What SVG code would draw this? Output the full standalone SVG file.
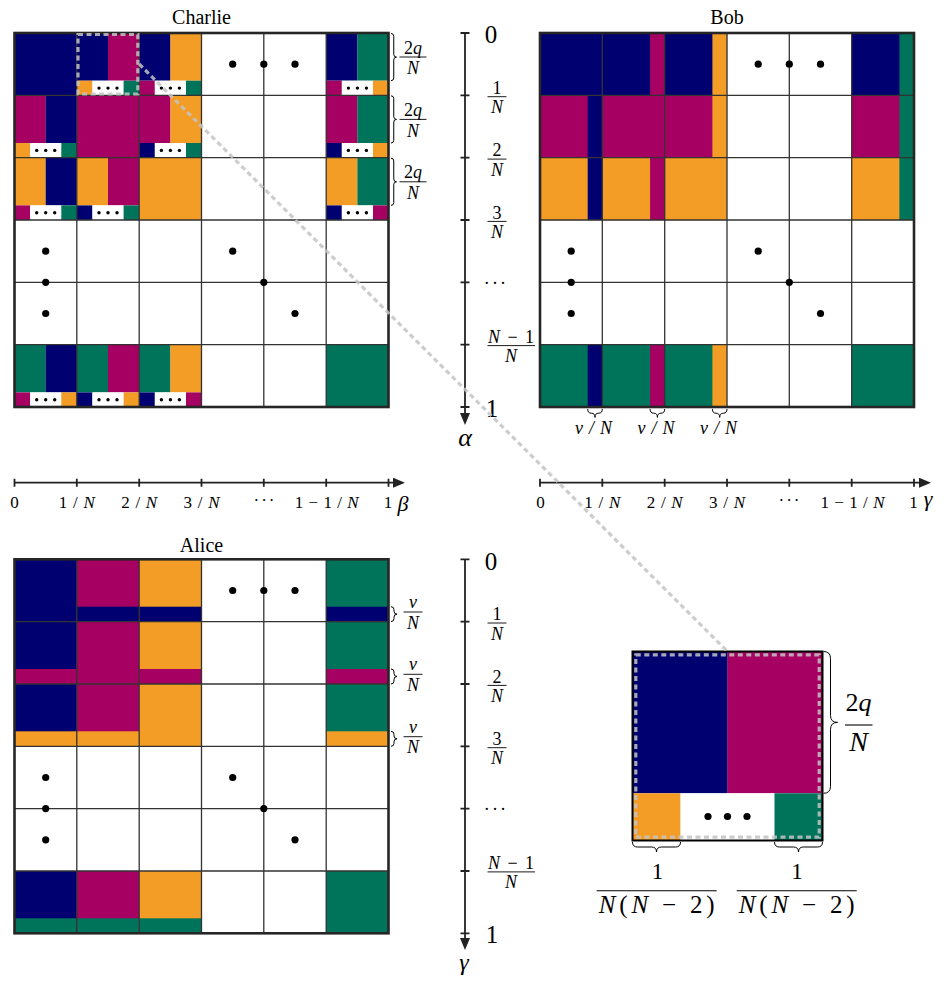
<svg xmlns="http://www.w3.org/2000/svg" width="948" height="987" viewBox="0 0 948 987" font-family="'Liberation Serif', 'DejaVu Serif', serif">
<defs>
<style>
.nv{fill:#000070}.mg{fill:#a50062}.or{fill:#f49d26}.gr{fill:#00745a}.wh{fill:#fff}
.grid{fill:none;stroke:#333;stroke-width:1.3}
.border{fill:none;stroke:#262626;stroke-width:2.6}
.t{font-family:'Liberation Serif','DejaVu Serif',serif;fill:#000}
.i{font-style:italic}
.title{font-size:20px}
.ax{fill:none;stroke:#222;stroke-width:1.8}
.tick{stroke:#222;stroke-width:1.8}
.br{fill:none;stroke:#000;stroke-width:1}
.bar{stroke:#000;stroke-width:0.9}
.f18{font-size:18px}
.f17{font-size:17px}
.big{font-size:25px}
.zoom{fill:none;stroke:#c4c4c4;stroke-opacity:0.85;stroke-width:3.2;stroke-dasharray:5 3.5}
</style>
<marker id="ah" markerUnits="userSpaceOnUse" markerWidth="12" markerHeight="10" refX="6" refY="5" orient="auto">
<path d="M0,0 L12,5 L0,10 z" fill="#222"/>
</marker>
</defs>
<rect width="948" height="987" fill="#fff"/>

<!-- ================= CHARLIE ================= -->
<g id="charlie">
<text class="t title" x="201.5" y="23.5" text-anchor="middle">Charlie</text>
<rect class="nv" x="14.5" y="33" width="62.4" height="62.4"/>
<rect class="nv" x="76.8" y="33" width="31.3" height="47.7"/><rect class="mg" x="108" y="33" width="31.3" height="47.7"/>
<rect class="or" x="76.8" y="80.7" width="15.7" height="14.7"/><rect class="wh" x="92.4" y="80.7" width="31.3" height="14.7"/><rect class="gr" x="123.6" y="80.7" width="15.7" height="14.7"/>
<rect class="nv" x="139.2" y="33" width="31.3" height="47.7"/><rect class="or" x="170.4" y="33" width="31.2" height="47.7"/>
<rect class="mg" x="139.2" y="80.7" width="15.7" height="14.7"/><rect class="wh" x="154.8" y="80.7" width="31.3" height="14.7"/><rect class="gr" x="186" y="80.7" width="15.6" height="14.7"/>
<rect class="nv" x="326.2" y="33" width="31.3" height="47.7"/><rect class="gr" x="357.4" y="33" width="31.2" height="47.7"/>
<rect class="mg" x="326.2" y="80.7" width="15.7" height="14.7"/><rect class="wh" x="341.8" y="80.7" width="31.3" height="14.7"/><rect class="or" x="373" y="80.7" width="15.6" height="14.7"/>
<rect class="mg" x="14.5" y="95.3" width="31.3" height="47.7"/><rect class="nv" x="45.7" y="95.3" width="31.2" height="47.7"/>
<rect class="or" x="14.5" y="143" width="15.7" height="14.7"/><rect class="wh" x="30.1" y="143" width="31.3" height="14.7"/><rect class="gr" x="61.3" y="143" width="15.6" height="14.7"/>
<rect class="mg" x="76.8" y="95.3" width="62.4" height="62.4"/>
<rect class="mg" x="139.2" y="95.3" width="31.3" height="47.7"/><rect class="or" x="170.4" y="95.3" width="31.2" height="47.7"/>
<rect class="nv" x="139.2" y="143" width="15.7" height="14.7"/><rect class="wh" x="154.8" y="143" width="31.3" height="14.7"/><rect class="gr" x="186" y="143" width="15.6" height="14.7"/>
<rect class="mg" x="326.2" y="95.3" width="31.3" height="47.7"/><rect class="gr" x="357.4" y="95.3" width="31.2" height="47.7"/>
<rect class="nv" x="326.2" y="143" width="15.7" height="14.7"/><rect class="wh" x="341.8" y="143" width="31.3" height="14.7"/><rect class="or" x="373" y="143" width="15.6" height="14.7"/>
<rect class="or" x="14.5" y="157.7" width="31.3" height="47.7"/><rect class="nv" x="45.7" y="157.7" width="31.2" height="47.7"/>
<rect class="mg" x="14.5" y="205.4" width="15.7" height="14.7"/><rect class="wh" x="30.1" y="205.4" width="31.3" height="14.7"/><rect class="gr" x="61.3" y="205.4" width="15.6" height="14.7"/>
<rect class="or" x="76.8" y="157.7" width="31.3" height="47.7"/><rect class="mg" x="108" y="157.7" width="31.3" height="47.7"/>
<rect class="nv" x="76.8" y="205.4" width="15.7" height="14.7"/><rect class="wh" x="92.4" y="205.4" width="31.3" height="14.7"/><rect class="gr" x="123.6" y="205.4" width="15.7" height="14.7"/>
<rect class="or" x="139.2" y="157.7" width="62.4" height="62.4"/>
<rect class="or" x="326.2" y="157.7" width="31.3" height="47.7"/><rect class="gr" x="357.4" y="157.7" width="31.2" height="47.7"/>
<rect class="nv" x="326.2" y="205.4" width="15.7" height="14.7"/><rect class="wh" x="341.8" y="205.4" width="31.3" height="14.7"/><rect class="mg" x="373" y="205.4" width="15.6" height="14.7"/>
<rect class="gr" x="14.5" y="344.7" width="31.3" height="47.7"/><rect class="nv" x="45.7" y="344.7" width="31.2" height="47.7"/>
<rect class="mg" x="14.5" y="392.4" width="15.7" height="14.7"/><rect class="wh" x="30.1" y="392.4" width="31.3" height="14.7"/><rect class="or" x="61.3" y="392.4" width="15.6" height="14.7"/>
<rect class="gr" x="76.8" y="344.7" width="31.3" height="47.7"/><rect class="mg" x="108" y="344.7" width="31.3" height="47.7"/>
<rect class="nv" x="76.8" y="392.4" width="15.7" height="14.7"/><rect class="wh" x="92.4" y="392.4" width="31.3" height="14.7"/><rect class="or" x="123.6" y="392.4" width="15.7" height="14.7"/>
<rect class="gr" x="139.2" y="344.7" width="31.3" height="47.7"/><rect class="or" x="170.4" y="344.7" width="31.2" height="47.7"/>
<rect class="nv" x="139.2" y="392.4" width="15.7" height="14.7"/><rect class="wh" x="154.8" y="392.4" width="31.3" height="14.7"/><rect class="mg" x="186" y="392.4" width="15.6" height="14.7"/>
<rect class="gr" x="326.2" y="344.7" width="62.4" height="62.4"/>
<g fill="#000">
<circle cx="99" cy="88.1" r="1.7"/><circle cx="108" cy="88.1" r="1.7"/><circle cx="117" cy="88.1" r="1.7"/>
<circle cx="161.4" cy="88.1" r="1.7"/><circle cx="170.4" cy="88.1" r="1.7"/><circle cx="179.4" cy="88.1" r="1.7"/>
<circle cx="348.4" cy="88.1" r="1.7"/><circle cx="357.4" cy="88.1" r="1.7"/><circle cx="366.4" cy="88.1" r="1.7"/>
<circle cx="36.7" cy="150.4" r="1.7"/><circle cx="45.7" cy="150.4" r="1.7"/><circle cx="54.7" cy="150.4" r="1.7"/>
<circle cx="161.4" cy="150.4" r="1.7"/><circle cx="170.4" cy="150.4" r="1.7"/><circle cx="179.4" cy="150.4" r="1.7"/>
<circle cx="348.4" cy="150.4" r="1.7"/><circle cx="357.4" cy="150.4" r="1.7"/><circle cx="366.4" cy="150.4" r="1.7"/>
<circle cx="36.7" cy="212.8" r="1.7"/><circle cx="45.7" cy="212.8" r="1.7"/><circle cx="54.7" cy="212.8" r="1.7"/>
<circle cx="99" cy="212.8" r="1.7"/><circle cx="108" cy="212.8" r="1.7"/><circle cx="117" cy="212.8" r="1.7"/>
<circle cx="348.4" cy="212.8" r="1.7"/><circle cx="357.4" cy="212.8" r="1.7"/><circle cx="366.4" cy="212.8" r="1.7"/>
<circle cx="36.7" cy="399.8" r="1.7"/><circle cx="45.7" cy="399.8" r="1.7"/><circle cx="54.7" cy="399.8" r="1.7"/>
<circle cx="99" cy="399.8" r="1.7"/><circle cx="108" cy="399.8" r="1.7"/><circle cx="117" cy="399.8" r="1.7"/>
<circle cx="161.4" cy="399.8" r="1.7"/><circle cx="170.4" cy="399.8" r="1.7"/><circle cx="179.4" cy="399.8" r="1.7"/>
</g>
<path class="grid" d="M76.8 33V407M139.2 33V407M201.5 33V407M263.8 33V407M326.2 33V407M14.5 95.3H388.5M14.5 157.7H388.5M14.5 220H388.5M14.5 282.3H388.5M14.5 344.7H388.5"/>
<rect class="border" x="14.5" y="33" width="374" height="374"/>
<g fill="#000">
<circle cx="232.7" cy="64.2" r="3.6"/><circle cx="263.8" cy="64.2" r="3.6"/><circle cx="295" cy="64.2" r="3.6"/>
<circle cx="45.7" cy="251.2" r="3.6"/><circle cx="45.7" cy="282.3" r="3.6"/><circle cx="45.7" cy="313.5" r="3.6"/>
<circle cx="232.7" cy="251.2" r="3.6"/><circle cx="263.8" cy="282.3" r="3.6"/><circle cx="295" cy="313.5" r="3.6"/>
</g>
<rect class="zoom" x="78" y="34.5" width="59.8" height="59.5"/>
</g>

<g id="charlie-braces">
<path class="br" d="M391,33.5 q2.75,0 2.75,2.75 V54.35 q0,2.75 2.75,2.75 q-2.75,0 -2.75,2.75 V77.95 q0,2.75 -2.75,2.75"/>
<path class="br" d="M391,95.8 q2.75,0 2.75,2.75 V116.65 q0,2.75 2.75,2.75 q-2.75,0 -2.75,2.75 V140.25 q0,2.75 -2.75,2.75"/>
<path class="br" d="M391,158.2 q2.75,0 2.75,2.75 V179.05 q0,2.75 2.75,2.75 q-2.75,0 -2.75,2.75 V202.65 q0,2.75 -2.75,2.75"/>
<text class="t f18" x="413" y="53.5" text-anchor="middle">2<tspan class="i">q</tspan></text>
<line class="bar" x1="399.5" y1="57" x2="426.5" y2="57"/>
<text class="t f18 i" x="413" y="74.2" text-anchor="middle">N</text>
<text class="t f18" x="413" y="116" text-anchor="middle">2<tspan class="i">q</tspan></text>
<line class="bar" x1="399.5" y1="119.4" x2="426.5" y2="119.4"/>
<text class="t f18 i" x="413" y="136.6" text-anchor="middle">N</text>
<text class="t f18" x="413" y="178.4" text-anchor="middle">2<tspan class="i">q</tspan></text>
<line class="bar" x1="399.5" y1="181.8" x2="426.5" y2="181.8"/>
<text class="t f18 i" x="413" y="199" text-anchor="middle">N</text>
</g>

<g id="bob">
<text class="t title" x="727" y="23.5" text-anchor="middle">Bob</text>
<rect class="nv" x="540" y="33" width="62.4" height="62.4"/>
<rect class="nv" x="602.3" y="33" width="62.4" height="62.4"/><rect class="mg" x="650.1" y="33" width="14.6" height="62.4"/>
<rect class="nv" x="664.7" y="33" width="62.4" height="62.4"/><rect class="or" x="712.4" y="33" width="14.6" height="62.4"/>
<rect class="nv" x="851.7" y="33" width="62.4" height="62.4"/><rect class="gr" x="899.4" y="33" width="14.6" height="62.4"/>
<rect class="mg" x="540" y="95.3" width="62.4" height="62.4"/><rect class="nv" x="587.7" y="95.3" width="14.6" height="62.4"/>
<rect class="mg" x="602.3" y="95.3" width="62.4" height="62.4"/>
<rect class="mg" x="664.7" y="95.3" width="62.4" height="62.4"/><rect class="or" x="712.4" y="95.3" width="14.6" height="62.4"/>
<rect class="mg" x="851.7" y="95.3" width="62.4" height="62.4"/><rect class="gr" x="899.4" y="95.3" width="14.6" height="62.4"/>
<rect class="or" x="540" y="157.7" width="62.4" height="62.4"/><rect class="nv" x="587.7" y="157.7" width="14.6" height="62.4"/>
<rect class="or" x="602.3" y="157.7" width="62.4" height="62.4"/><rect class="mg" x="650.1" y="157.7" width="14.6" height="62.4"/>
<rect class="or" x="664.7" y="157.7" width="62.4" height="62.4"/>
<rect class="or" x="851.7" y="157.7" width="62.4" height="62.4"/><rect class="gr" x="899.4" y="157.7" width="14.6" height="62.4"/>
<rect class="gr" x="540" y="344.7" width="62.4" height="62.4"/><rect class="nv" x="587.7" y="344.7" width="14.6" height="62.4"/>
<rect class="gr" x="602.3" y="344.7" width="62.4" height="62.4"/><rect class="mg" x="650.1" y="344.7" width="14.6" height="62.4"/>
<rect class="gr" x="664.7" y="344.7" width="62.4" height="62.4"/><rect class="or" x="712.4" y="344.7" width="14.6" height="62.4"/>
<rect class="gr" x="851.7" y="344.7" width="62.4" height="62.4"/>
<path class="grid" d="M602.3 33V407M664.7 33V407M727 33V407M789.3 33V407M851.7 33V407M540 95.3H914M540 157.7H914M540 220H914M540 282.3H914M540 344.7H914"/>
<rect class="border" x="540" y="33" width="374" height="374"/>
<g fill="#000">
<circle cx="758.2" cy="64.2" r="3.6"/><circle cx="789.3" cy="64.2" r="3.6"/><circle cx="820.5" cy="64.2" r="3.6"/>
<circle cx="571.2" cy="251.2" r="3.6"/><circle cx="571.2" cy="282.3" r="3.6"/><circle cx="571.2" cy="313.5" r="3.6"/>
<circle cx="758.2" cy="251.2" r="3.6"/><circle cx="789.3" cy="282.3" r="3.6"/><circle cx="820.5" cy="313.5" r="3.6"/>
</g>
</g>

<g id="bob-braces">
<path class="br" d="M587.7,409 q0,4.2 3.6,4.2 H591.4 q3.6,0 3.6,4.2 q0,-4.2 3.6,-4.2 H598.7 q3.6,0 3.6,-4.2"/>
<path class="br" d="M650.1,409 q0,4.2 3.6,4.2 H653.8 q3.6,0 3.6,4.2 q0,-4.2 3.6,-4.2 H661.1 q3.6,0 3.6,-4.2"/>
<path class="br" d="M712.4,409 q0,4.2 3.6,4.2 H716.1 q3.6,0 3.6,4.2 q0,-4.2 3.6,-4.2 H723.4 q3.6,0 3.6,-4.2"/>
<text class="t f18 i" x="593.5" y="433.5" text-anchor="middle" textLength="37" lengthAdjust="spacing">ν/N</text>
<text class="t f18 i" x="656" y="433.5" text-anchor="middle" textLength="37" lengthAdjust="spacing">ν/N</text>
<text class="t f18 i" x="718.5" y="433.5" text-anchor="middle" textLength="37" lengthAdjust="spacing">ν/N</text>
</g>

<g id="alice">
<text class="t title" x="201.5" y="551.5" text-anchor="middle">Alice</text>
<rect class="nv" x="14.5" y="559.3" width="62.4" height="62.4"/>
<rect class="mg" x="76.8" y="559.3" width="62.4" height="62.4"/><rect class="nv" x="76.8" y="606.7" width="62.4" height="15"/>
<rect class="or" x="139.2" y="559.3" width="62.4" height="62.4"/><rect class="nv" x="139.2" y="606.7" width="62.4" height="15"/>
<rect class="gr" x="326.2" y="559.3" width="62.4" height="62.4"/><rect class="nv" x="326.2" y="606.7" width="62.4" height="15"/>
<rect class="nv" x="14.5" y="621.6" width="62.4" height="62.4"/><rect class="mg" x="14.5" y="669" width="62.4" height="15"/>
<rect class="mg" x="76.8" y="621.6" width="62.4" height="62.4"/>
<rect class="or" x="139.2" y="621.6" width="62.4" height="62.4"/><rect class="mg" x="139.2" y="669" width="62.4" height="15"/>
<rect class="gr" x="326.2" y="621.6" width="62.4" height="62.4"/><rect class="mg" x="326.2" y="669" width="62.4" height="15"/>
<rect class="nv" x="14.5" y="684" width="62.4" height="62.4"/><rect class="or" x="14.5" y="731.3" width="62.4" height="15"/>
<rect class="mg" x="76.8" y="684" width="62.4" height="62.4"/><rect class="or" x="76.8" y="731.3" width="62.4" height="15"/>
<rect class="or" x="139.2" y="684" width="62.4" height="62.4"/>
<rect class="gr" x="326.2" y="684" width="62.4" height="62.4"/><rect class="or" x="326.2" y="731.3" width="62.4" height="15"/>
<rect class="nv" x="14.5" y="871" width="62.4" height="62.4"/><rect class="gr" x="14.5" y="918.3" width="62.4" height="15"/>
<rect class="mg" x="76.8" y="871" width="62.4" height="62.4"/><rect class="gr" x="76.8" y="918.3" width="62.4" height="15"/>
<rect class="or" x="139.2" y="871" width="62.4" height="62.4"/><rect class="gr" x="139.2" y="918.3" width="62.4" height="15"/>
<rect class="gr" x="326.2" y="871" width="62.4" height="62.4"/>
<path class="grid" d="M76.8 559.3V933.3M139.2 559.3V933.3M201.5 559.3V933.3M263.8 559.3V933.3M326.2 559.3V933.3M14.5 621.6H388.5M14.5 684H388.5M14.5 746.3H388.5M14.5 808.6H388.5M14.5 871H388.5"/>
<rect class="border" x="14.5" y="559.3" width="374" height="374"/>
<g fill="#000">
<circle cx="232.7" cy="590.5" r="3.6"/><circle cx="263.8" cy="590.5" r="3.6"/><circle cx="295" cy="590.5" r="3.6"/>
<circle cx="45.7" cy="777.5" r="3.6"/><circle cx="45.7" cy="808.6" r="3.6"/><circle cx="45.7" cy="839.8" r="3.6"/>
<circle cx="232.7" cy="777.5" r="3.6"/><circle cx="263.8" cy="808.6" r="3.6"/><circle cx="295" cy="839.8" r="3.6"/>
</g>
</g>

<g id="alice-braces">
<path class="br" d="M391,606.7 q3,0 3,3 V611.15 q0,3 3,3 q-3,0 -3,3 V618.6 q0,3 -3,3"/>
<path class="br" d="M391,669 q3,0 3,3 V673.5 q0,3 3,3 q-3,0 -3,3 V681 q0,3 -3,3"/>
<path class="br" d="M391,731.3 q3,0 3,3 V735.8 q0,3 3,3 q-3,0 -3,3 V743.3 q0,3 -3,3"/>
<text class="t f18 i" x="413" y="608" text-anchor="middle">ν</text>
<line class="bar" x1="403.5" y1="612" x2="422.5" y2="612"/>
<text class="t f18 i" x="413" y="628.5" text-anchor="middle">N</text>
<text class="t f18 i" x="413" y="670" text-anchor="middle">ν</text>
<line class="bar" x1="403.5" y1="674.3" x2="422.5" y2="674.3"/>
<text class="t f18 i" x="413" y="690.8" text-anchor="middle">N</text>
<text class="t f18 i" x="413" y="732.5" text-anchor="middle">ν</text>
<line class="bar" x1="403.5" y1="736.7" x2="422.5" y2="736.7"/>
<text class="t f18 i" x="413" y="753.2" text-anchor="middle">N</text>
</g>

<g id="axis-alpha">
<line class="ax" x1="465" y1="33" x2="465" y2="419" marker-end="url(#ah)"/>
<path class="tick" d="M460.5 33H469.5M460.5 95.3H469.5M460.5 157.7H469.5M460.5 220H469.5M460.5 282.3H469.5M460.5 344.7H469.5M460.5 407H469.5"/>
<text class="t big" x="491" y="42.5" text-anchor="middle">0</text>
<text class="t f18" x="497" y="94" text-anchor="middle">1</text>
<line class="bar" x1="487.5" y1="96.7" x2="506.5" y2="96.7"/>
<text class="t f18 i" x="497" y="113.3" text-anchor="middle">N</text>
<text class="t f18" x="497" y="156.4" text-anchor="middle">2</text>
<line class="bar" x1="487.5" y1="159.1" x2="506.5" y2="159.1"/>
<text class="t f18 i" x="497" y="175.7" text-anchor="middle">N</text>
<text class="t f18" x="497" y="218.7" text-anchor="middle">3</text>
<line class="bar" x1="487.5" y1="221.4" x2="506.5" y2="221.4"/>
<text class="t f18 i" x="497" y="238" text-anchor="middle">N</text>
<text class="t f18" x="496" y="288.5" text-anchor="middle" letter-spacing="2.2">···</text>
<text class="t f18" x="511" y="343" text-anchor="middle" textLength="46" lengthAdjust="spacing"><tspan class="i">N</tspan>−1</text>
<line class="bar" x1="487.5" y1="345.6" x2="535" y2="345.6"/>
<text class="t f18 i" x="511" y="362" text-anchor="middle">N</text>
<text class="t big" x="492" y="416.5" text-anchor="middle">1</text>
<text class="t i" x="465" y="446" text-anchor="middle" font-size="26">α</text>
</g>

<g id="axis-beta">
<line class="ax" x1="14.5" y1="482.7" x2="399" y2="482.7" marker-end="url(#ah)"/>
<path class="tick" d="M14.5 478.7V486.7M76.8 478.7V486.7M139.2 478.7V486.7M201.5 478.7V486.7M263.8 478.7V486.7M326.2 478.7V486.7M388.5 478.7V486.7"/>
<g class="t f17" text-anchor="middle">
<text x="14.5" y="508">0</text>
<text x="76.8" y="508" textLength="36" lengthAdjust="spacing">1/<tspan class="i">N</tspan></text>
<text x="139.2" y="508" textLength="36" lengthAdjust="spacing">2/<tspan class="i">N</tspan></text>
<text x="201.5" y="508" textLength="36" lengthAdjust="spacing">3/<tspan class="i">N</tspan></text>
<text x="265" y="506" letter-spacing="2">···</text>
<text x="326.7" y="508" textLength="64" lengthAdjust="spacing">1−1/<tspan class="i">N</tspan></text>
<text x="388" y="508">1</text>
</g>
<text class="t i" x="403" y="511" text-anchor="middle" font-size="22">β</text>
</g>

<g id="axis-gamma-bob">
<line class="ax" x1="540" y1="482.7" x2="925" y2="482.7" marker-end="url(#ah)"/>
<path class="tick" d="M540 478.7V486.7M602.3 478.7V486.7M664.7 478.7V486.7M727 478.7V486.7M789.3 478.7V486.7M851.7 478.7V486.7M914 478.7V486.7"/>
<g class="t f17" text-anchor="middle">
<text x="540.5" y="508">0</text>
<text x="602.3" y="508" textLength="36" lengthAdjust="spacing">1/<tspan class="i">N</tspan></text>
<text x="664.7" y="508" textLength="36" lengthAdjust="spacing">2/<tspan class="i">N</tspan></text>
<text x="727" y="508" textLength="36" lengthAdjust="spacing">3/<tspan class="i">N</tspan></text>
<text x="790" y="506" letter-spacing="2">···</text>
<text x="852.5" y="508" textLength="64" lengthAdjust="spacing">1−1/<tspan class="i">N</tspan></text>
<text x="913.5" y="508">1</text>
</g>
<text class="t i" x="928" y="506" text-anchor="middle" font-size="22">γ</text>
</g>

<g id="axis-gamma-alice">
<line class="ax" x1="465" y1="559.3" x2="465" y2="944" marker-end="url(#ah)"/>
<path class="tick" d="M460.5 559.3H469.5M460.5 621.6H469.5M460.5 684H469.5M460.5 746.3H469.5M460.5 808.6H469.5M460.5 871H469.5M460.5 933.3H469.5"/>
<text class="t big" x="491" y="569.5" text-anchor="middle">0</text>
<text class="t f18" x="497" y="620.3" text-anchor="middle">1</text>
<line class="bar" x1="487.5" y1="623" x2="506.5" y2="623"/>
<text class="t f18 i" x="497" y="639.6" text-anchor="middle">N</text>
<text class="t f18" x="497" y="682.7" text-anchor="middle">2</text>
<line class="bar" x1="487.5" y1="685.4" x2="506.5" y2="685.4"/>
<text class="t f18 i" x="497" y="702" text-anchor="middle">N</text>
<text class="t f18" x="497" y="745" text-anchor="middle">3</text>
<line class="bar" x1="487.5" y1="747.7" x2="506.5" y2="747.7"/>
<text class="t f18 i" x="497" y="764.3" text-anchor="middle">N</text>
<text class="t f18" x="496" y="814.8" text-anchor="middle" letter-spacing="2.2">···</text>
<text class="t f18" x="511" y="869.3" text-anchor="middle" textLength="46" lengthAdjust="spacing"><tspan class="i">N</tspan>−1</text>
<line class="bar" x1="487.5" y1="871.9" x2="535" y2="871.9"/>
<text class="t f18 i" x="511" y="888.3" text-anchor="middle">N</text>
<text class="t big" x="492" y="942.8" text-anchor="middle">1</text>
<text class="t i" x="464" y="970" text-anchor="middle" font-size="24">γ</text>
</g>

<g id="inset">
<rect class="nv" x="632.5" y="651.5" width="95.2" height="141.8"/>
<rect class="mg" x="727.5" y="651.5" width="95" height="141.8"/>
<rect class="or" x="632.5" y="793.3" width="48.2" height="47.2"/>
<rect class="wh" x="680.5" y="793.3" width="94.2" height="47.2"/>
<rect class="gr" x="774.5" y="793.3" width="48" height="47.2"/>
<g fill="#000"><circle cx="708" cy="816.5" r="3.6"/><circle cx="727.5" cy="816.5" r="3.6"/><circle cx="747" cy="816.5" r="3.6"/></g>
<rect x="632.5" y="651.5" width="190" height="189" fill="none" stroke="#000" stroke-width="2"/>
<rect class="zoom" x="635.8" y="654.8" width="183.4" height="182.4"/>
</g>

<g id="inset-braces">
<path class="br" d="M823.5,651.5 q7,0 7,7 V715.4 q0,7 7,7 q-7,0 -7,7 V786.3 q0,7 -7,7"/>
<text class="t" x="858.5" y="711" text-anchor="middle" font-size="26">2<tspan class="i">q</tspan></text>
<line x1="845" y1="725" x2="872.5" y2="725" stroke="#000" stroke-width="1.1"/>
<text class="t i" x="858.5" y="750.5" text-anchor="middle" font-size="28">N</text>
<path class="br" d="M632.5,842 q0,5 5,5 H651.5 q5,0 5,5 q0,-5 5,-5 H675.5 q5,0 5,-5"/>
<path class="br" d="M774.5,842 q0,5 5,5 H793.5 q5,0 5,5 q0,-5 5,-5 H817.5 q5,0 5,-5"/>
<text class="t" x="657.5" y="878.5" text-anchor="middle" font-size="23">1</text>
<line x1="596.7" y1="890.7" x2="716.7" y2="890.7" stroke="#000" stroke-width="1.1"/>
<text class="t" x="656.7" y="913" text-anchor="middle" font-size="25" textLength="116" lengthAdjust="spacing"><tspan class="i">N</tspan>(<tspan class="i">N</tspan> − 2)</text>
<text class="t" x="797" y="878.5" text-anchor="middle" font-size="23">1</text>
<line x1="736.7" y1="890.7" x2="856.7" y2="890.7" stroke="#000" stroke-width="1.1"/>
<text class="t" x="796.7" y="913" text-anchor="middle" font-size="25" textLength="116" lengthAdjust="spacing"><tspan class="i">N</tspan>(<tspan class="i">N</tspan> − 2)</text>
</g>

<g id="connectors">
<line class="zoom" x1="139.2" y1="64" x2="727.5" y2="651.5"/>
</g>
</svg>
